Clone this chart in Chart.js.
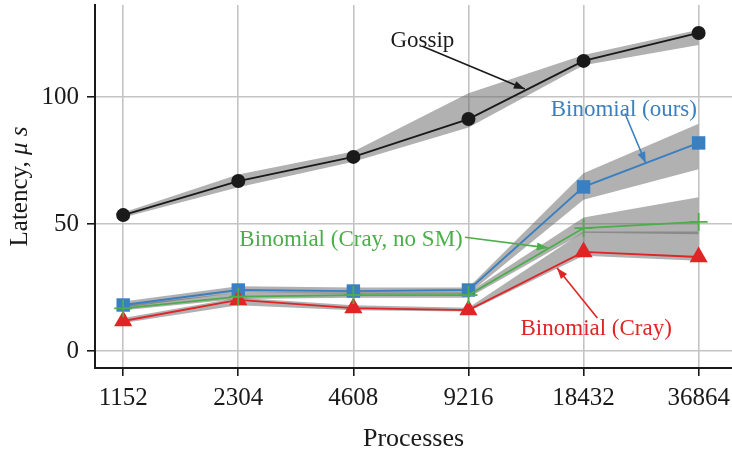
<!DOCTYPE html>
<html lang="en">
<head>
<meta charset="UTF-8" />
<title>Latency vs Processes</title>
<script src="https://cdn.jsdelivr.net/npm/chart.js@4.4.0/dist/chart.umd.min.js"></script>
<style>
  html, body { margin: 0; padding: 0; background: #fff; }
  .chart-container { width: 732px; height: 459px; }
</style>
</head>
<body>
<div class="chart-container"><canvas id="latencyChart"></canvas></div>
<script>
// x categories and y ticks
const processes = ["1152", "2304", "4608", "9216", "18432", "36864"];
const yTicks = [0, 50, 100];

// mean latency (us) per series
const gossip = [53.5, 66.9, 76.4, 91.3, 114.2, 125.2];
const binomialOurs = [18.1, 24.0, 23.6, 24.0, 64.6, 81.9];
const binomialCrayNoSM = [16.8, 21.4, 22.0, 22.0, 48.4, 50.8];
const binomialCray = [11.8, 20.1, 16.9, 16.1, 39.0, 37.0];

// spread bands (low / high)
const gossipLow = [52.5, 64.5, 74.5, 88.0, 112.5, 120.5];
const gossipHigh = [54.5, 69.5, 78.5, 101.5, 116.5, 126.5];
const oursLow = [17.0, 23.0, 22.5, 22.5, 59.5, 71.5];
const oursHigh = [19.5, 25.5, 25.0, 25.0, 70.0, 89.5];
const noSMLow = [16.0, 20.5, 21.0, 21.0, 46.5, 46.0];
const noSMHigh = [18.0, 23.0, 23.0, 23.0, 52.5, 60.5];
const crayLow = [11.0, 18.0, 16.0, 15.5, 37.5, 35.5];
const crayHigh = [13.0, 21.0, 18.0, 17.0, 47.0, 47.0];

// text labels with arrows, in data units (x = category index)
const notes = [
  { text: "Gossip", color: "#1a1a1a", tx: 2.60, ty: 122, from: [2.60, 120.0], to: [3.49, 103.1] },
  { text: "Binomial (ours)", color: "#3a7fc0", tx: 4.35, ty: 95, from: [4.36, 93.5], to: [4.54, 74.0] },
  { text: "Binomial (Cray, no SM)", color: "#4cae4a", tx: 1.98, ty: 43.7, from: [2.97, 44.8], to: [3.69, 40.6] },
  { text: "Binomial (Cray)", color: "#e02526", tx: 4.11, ty: 8.7, from: [4.12, 13.0], to: [3.77, 32.7] }
];

const serif = "'Liberation Serif', 'DejaVu Serif', serif";
const toPoints = (arr) => arr.map((y, i) => ({ x: i, y: y }));

function band(high, low) {
  const common = { pointRadius: 0, borderWidth: 0, tension: 0, order: 10,
                   backgroundColor: "rgba(100,100,100,0.5)" };
  return [
    Object.assign({ data: toPoints(high), fill: "+1" }, common),
    Object.assign({ data: toPoints(low), fill: false }, common)
  ];
}

function series(values, color, style, radius, order) {
  return {
    data: toPoints(values), borderColor: color, backgroundColor: color,
    pointBackgroundColor: color, pointBorderColor: color,
    pointStyle: style, pointRadius: radius, pointBorderWidth: style === "cross" ? 1.8 : 0,
    borderWidth: 1.8, tension: 0, fill: false, order: order
  };
}

const notesPlugin = {
  id: "notes",
  afterDatasetsDraw(chart) {
    const { ctx, scales } = chart;
    ctx.save();
    notes.forEach((n) => {
      const x1 = scales.x.getPixelForValue(n.from[0]), y1 = scales.y.getPixelForValue(n.from[1]);
      const x2 = scales.x.getPixelForValue(n.to[0]), y2 = scales.y.getPixelForValue(n.to[1]);
      ctx.strokeStyle = n.color;
      ctx.fillStyle = n.color;
      ctx.lineWidth = 1.6;
      ctx.beginPath();
      ctx.moveTo(x1, y1);
      ctx.lineTo(x2, y2);
      ctx.stroke();
      const a = Math.atan2(y2 - y1, x2 - x1);
      ctx.beginPath();
      ctx.moveTo(x2, y2);
      ctx.lineTo(x2 - 11 * Math.cos(a) + 4 * Math.sin(a), y2 - 11 * Math.sin(a) - 4 * Math.cos(a));
      ctx.lineTo(x2 - 11 * Math.cos(a) - 4 * Math.sin(a), y2 - 11 * Math.sin(a) + 4 * Math.cos(a));
      ctx.closePath();
      ctx.fill();

      ctx.font = "23px " + serif;
      ctx.textAlign = "center";
      ctx.textBaseline = "middle";
      const tx = scales.x.getPixelForValue(n.tx), ty = scales.y.getPixelForValue(n.ty);
      ctx.fillText(n.text, tx, ty);
    });
    ctx.restore();
  },
  afterDraw(chart) {
    const { ctx, chartArea } = chart;
    ctx.save();
    ctx.fillStyle = "#1a1a1a";
    ctx.textBaseline = "middle";
    // y axis title with italic unit
    const plain = "Latency, ", ital = "\u03bc s";
    ctx.font = "25px " + serif;
    const w1 = ctx.measureText(plain).width;
    ctx.font = "italic 25px " + serif;
    const w2 = ctx.measureText(ital).width;
    ctx.translate(20, (chartArea.top + chartArea.bottom) / 2);
    ctx.rotate(-Math.PI / 2);
    ctx.textAlign = "left";
    ctx.font = "25px " + serif;
    ctx.fillText(plain, -(w1 + w2) / 2, 0);
    ctx.font = "italic 25px " + serif;
    ctx.fillText(ital, -(w1 + w2) / 2 + w1, 0);
    ctx.restore();

    ctx.save();
    ctx.fillStyle = "#1a1a1a";
    ctx.font = "26px " + serif;
    ctx.textAlign = "center";
    ctx.textBaseline = "middle";
    ctx.fillText("Processes", (chartArea.left + chartArea.right) / 2, chart.height - 20);
    ctx.restore();
  }
};

const ctx = document.getElementById("latencyChart").getContext("2d");
const chart = new Chart(ctx, {
  type: "line",
  data: {
    datasets: [
      ...band(gossipHigh, gossipLow),
      ...band(oursHigh, oursLow),
      ...band(noSMHigh, noSMLow),
      ...band(crayHigh, crayLow),
      series(gossip, "#1a1a1a", "circle", 7, 4),
      series(binomialOurs, "#3a7fc0", "rect", 9.5, 3),
      series(binomialCray, "#e02526", "triangle", 10.5, 2),
      series(binomialCrayNoSM, "#4cae4a", "cross", 9, 1)
    ]
  },
  options: {
    responsive: true,
    maintainAspectRatio: false,
    animation: false,
    layout: { autoPadding: false, padding: { top: 5, right: 0, left: 0, bottom: 0 } },
    plugins: { legend: { display: false }, tooltip: { enabled: false } },
    scales: {
      x: {
        type: "linear",
        min: -0.245,
        max: 5.29,
        afterBuildTicks: (s) => { s.ticks = processes.map((_, i) => ({ value: i })); },
        afterFit: (s) => { s.height = 91; s.paddingLeft = 0; s.paddingRight = 0; },
        ticks: {
          callback: (v) => processes[v],
          color: "#1a1a1a",
          font: { family: serif, size: 25 },
          padding: 7,
          maxRotation: 0
        },
        grid: { color: "#c4c4c4", lineWidth: 1.6, tickColor: "#1a1a1a", tickLength: 8 },
        border: { color: "#1a1a1a", width: 2 }
      },
      y: {
        min: -6.7,
        max: 136.2,
        afterBuildTicks: (s) => { s.ticks = yTicks.map((v) => ({ value: v })); },
        afterFit: (s) => { s.width = 95; s.paddingTop = 0; s.paddingBottom = 0; },
        ticks: {
          color: "#1a1a1a",
          font: { family: serif, size: 25 },
          padding: 8
        },
        grid: { color: "#c4c4c4", lineWidth: 1.6, tickColor: "#1a1a1a", tickLength: 8 },
        border: { color: "#1a1a1a", width: 2 }
      }
    }
  },
  plugins: [notesPlugin]
});
</script>
</body>
</html>
